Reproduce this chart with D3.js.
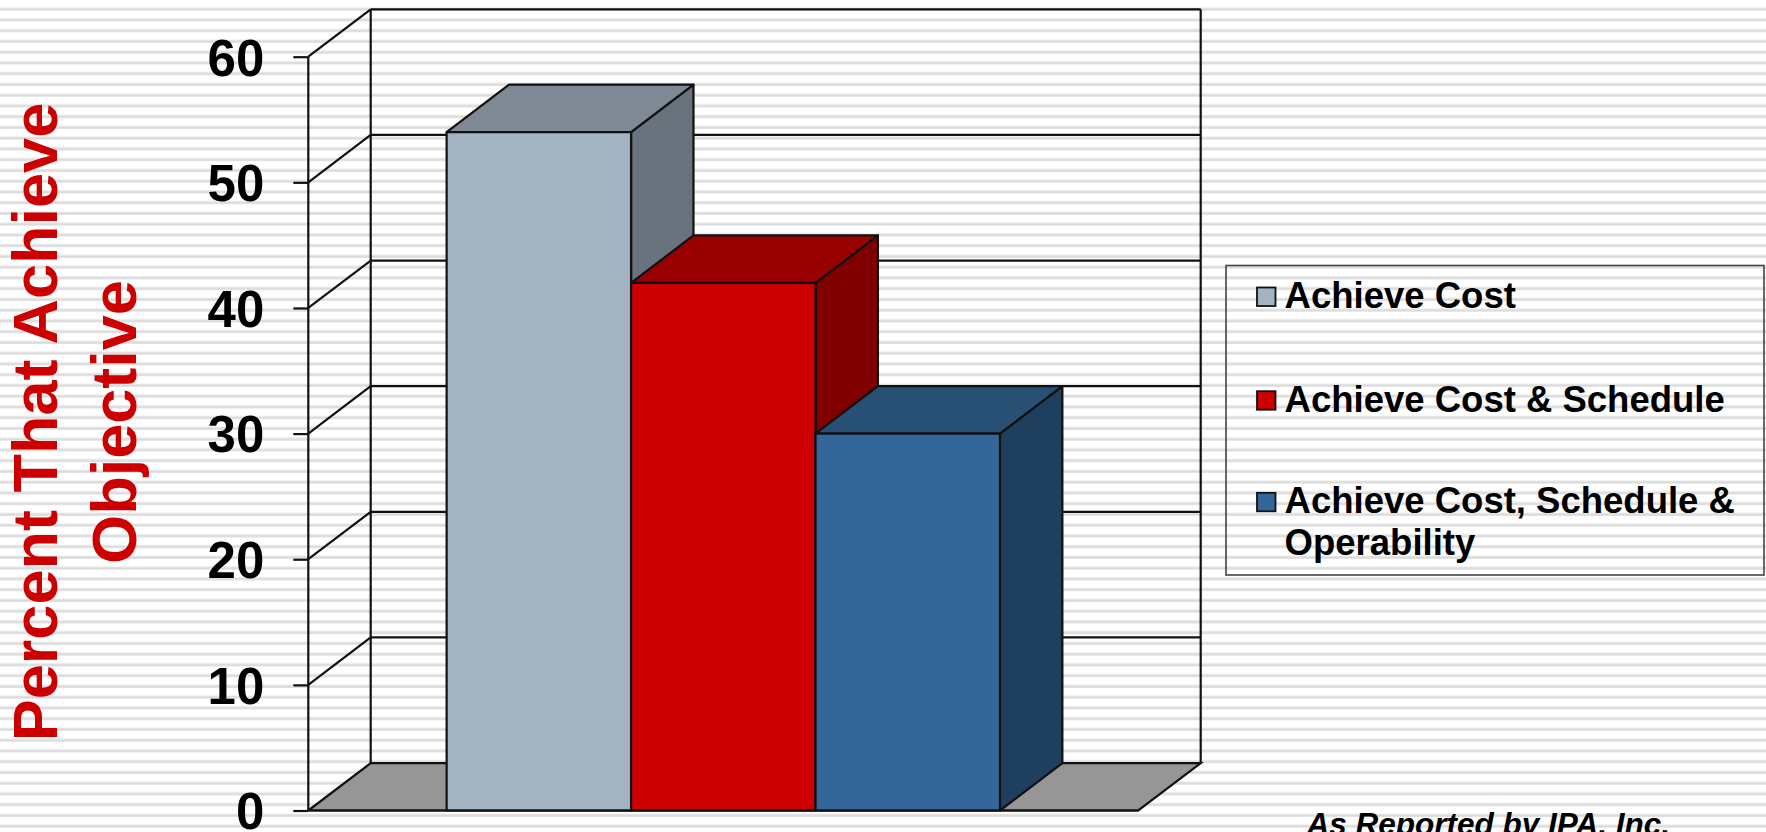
<!DOCTYPE html>
<html>
<head>
<meta charset="utf-8">
<script src="https://cdn.jsdelivr.net/npm/d3@7"></script>
<style>
  html, body { margin: 0; padding: 0; background: #fff; }
  svg { display: block; }
  text { font-family: "Liberation Sans", Arial, sans-serif; font-weight: bold; }
</style>
</head>
<body>
<svg id="chart" width="1766" height="832"></svg>
<script>
// ---- data ----
const seriesNames = ["Achieve Cost", "Achieve Cost & Schedule", "Achieve Cost, Schedule & Operability"];
const seriesValues = [54, 42, 30];
const frontColors = ["#A4B3C2", "#CC0000", "#336699"];
const topColors = ["#7F8996", "#990000", "#284F74"];
const sideColors = ["#68737E", "#800000", "#1F3F5F"];
const yTicks = [0, 10, 20, 30, 40, 50, 60];
const yTitleLines = ["Percent That Achieve", "Objective"];
const sourceNote = "As Reported by IPA, Inc.";

(function () {
// ---- layout ----
const W = 1766, H = 832;
const frontLeft = 308.3, frontRight = 1138.3;
const depthX = 62.4, depthY = -47.4;

const svg = d3.select("#chart");
const defs = svg.append("defs");
const pat = defs.append("pattern").attr("id", "stripes")
  .attr("patternUnits", "userSpaceOnUse").attr("width", 20).attr("height", 10.75);
pat.append("rect").attr("width", 20).attr("height", 10.75).attr("fill", "#ffffff");
pat.append("rect").attr("y", 7.4).attr("width", 20).attr("height", 3.8).attr("fill", "#ececec");
pat.append("rect").attr("y", 8.2).attr("width", 20).attr("height", 2.2).attr("fill", "#dcdcdc");
svg.append("rect").attr("width", W).attr("height", H).attr("fill", "url(#stripes)");

const y = d3.scaleLinear().domain([0, 60]).range([810.5, 56.7]);
const x = d3.scaleBand().domain(seriesNames).range([frontLeft, frontRight])
  .paddingInner(0).paddingOuter(0.75);

const ink = "#111";
const lw = 2.2;
const g = svg.append("g");

// back wall gridlines + left wall diagonals
const grid = g.append("g");
yTicks.forEach(t => {
  const yy = y(t);
  if (t > 0) {
    grid.append("line").attr("x1", frontLeft).attr("y1", yy)
      .attr("x2", frontLeft + depthX).attr("y2", yy + depthY)
      .attr("stroke", ink).attr("stroke-width", lw);
    grid.append("line").attr("x1", frontLeft + depthX).attr("y1", yy + depthY)
      .attr("x2", frontRight + depthX).attr("y2", yy + depthY)
      .attr("stroke", ink).attr("stroke-width", lw);
  }
});
// wall outlines
const yTop = y(60);
grid.append("line").attr("x1", frontLeft + depthX).attr("y1", yTop + depthY)
  .attr("x2", frontLeft + depthX).attr("y2", y(0) + depthY).attr("stroke", ink).attr("stroke-width", lw);
grid.append("line").attr("x1", frontRight + depthX).attr("y1", yTop + depthY)
  .attr("x2", frontRight + depthX).attr("y2", y(0) + depthY).attr("stroke", ink).attr("stroke-width", lw);
grid.append("line").attr("x1", frontLeft).attr("y1", yTop)
  .attr("x2", frontLeft).attr("y2", y(0)).attr("stroke", ink).attr("stroke-width", lw);

// floor
const f0 = y(0);
g.append("path")
  .attr("d", `M${frontLeft},${f0} L${frontLeft + depthX},${f0 + depthY} L${frontRight + depthX},${f0 + depthY} L${frontRight},${f0} Z`)
  .attr("fill", "#969696").attr("stroke", ink).attr("stroke-width", lw).attr("stroke-linejoin", "miter");

// y axis ticks + labels
const axis = d3.axisLeft(y).tickValues(yTicks).tickSize(15).tickPadding(29).tickFormat(d3.format("d"));
const ag = g.append("g").attr("transform", `translate(${frontLeft},0)`).call(axis);
ag.select(".domain").remove();
ag.selectAll(".tick line").attr("stroke", ink).attr("stroke-width", lw);
ag.selectAll(".tick text").attr("fill", "#000").attr("font-size", 51)
  .attr("dy", "0.36em").style("font-family", "'Liberation Sans', Arial, sans-serif").style("font-weight", "bold");

// bars
const bars = g.append("g");
seriesNames.forEach((name, i) => {
  const x0 = x(name), x1 = x0 + x.bandwidth();
  const yt = y(seriesValues[i]), yb = y(0);
  const bg = bars.append("g").attr("stroke", ink).attr("stroke-width", lw).attr("stroke-linejoin", "round");
  bg.append("path").attr("d", `M${x1},${yt} L${x1 + depthX},${yt + depthY} L${x1 + depthX},${yb + depthY} L${x1},${yb} Z`)
    .attr("fill", sideColors[i]);
  bg.append("path").attr("d", `M${x0},${yt} L${x0 + depthX},${yt + depthY} L${x1 + depthX},${yt + depthY} L${x1},${yt} Z`)
    .attr("fill", topColors[i]);
  bg.append("rect").attr("x", x0).attr("y", yt).attr("width", x1 - x0).attr("height", yb - yt)
    .attr("fill", frontColors[i]);
});
g.append("line").attr("x1", frontLeft).attr("y1", f0).attr("x2", frontRight).attr("y2", f0)
  .attr("stroke", ink).attr("stroke-width", lw);

// y title
const tg = svg.append("g").attr("transform", "translate(0,422) rotate(-90)");
const baselines = [57, 136];
yTitleLines.forEach((t, i) => {
  tg.append("text").attr("x", 0).attr("y", baselines[i]).attr("text-anchor", "middle")
    .attr("font-size", 63).attr("fill", "#CC0000").text(t);
});

// legend
const lg = svg.append("g");
lg.append("rect").attr("x", 1226).attr("y", 265.5).attr("width", 538).attr("height", 309.5)
  .attr("fill", "none").attr("stroke", "#444").attr("stroke-width", 1.6);
const itemBaselines = [308, 411.7, 513.3];
const lineH = 41.7;
const maxTextW = 470;
seriesNames.forEach((name, i) => {
  const by = itemBaselines[i];
  lg.append("rect").attr("x", 1257).attr("y", by - 20.5).attr("width", 18.5).attr("height", 18.5)
    .attr("fill", frontColors[i]).attr("stroke", "#111").attr("stroke-width", 1.8);
  const txt = lg.append("text").attr("x", 1284.6).attr("y", by).attr("font-size", 36.5).attr("fill", "#000");
  const words = name.split(" ");
  let line = [];
  let tspan = txt.append("tspan").attr("x", 1284.6).attr("y", by);
  let lineNo = 0;
  words.forEach(w => {
    line.push(w);
    tspan.text(line.join(" "));
    if (tspan.node().getComputedTextLength() > maxTextW && line.length > 1) {
      line.pop();
      tspan.text(line.join(" "));
      line = [w];
      lineNo++;
      tspan = txt.append("tspan").attr("x", 1284.6).attr("y", by + lineNo * lineH).text(w);
    }
  });
});

// source note
svg.append("text").attr("x", 1306.5).attr("y", 834.5).attr("font-size", 31.5)
  .attr("font-style", "italic").attr("fill", "#000").text(sourceNote);
})();
</script>
</body>
</html>
